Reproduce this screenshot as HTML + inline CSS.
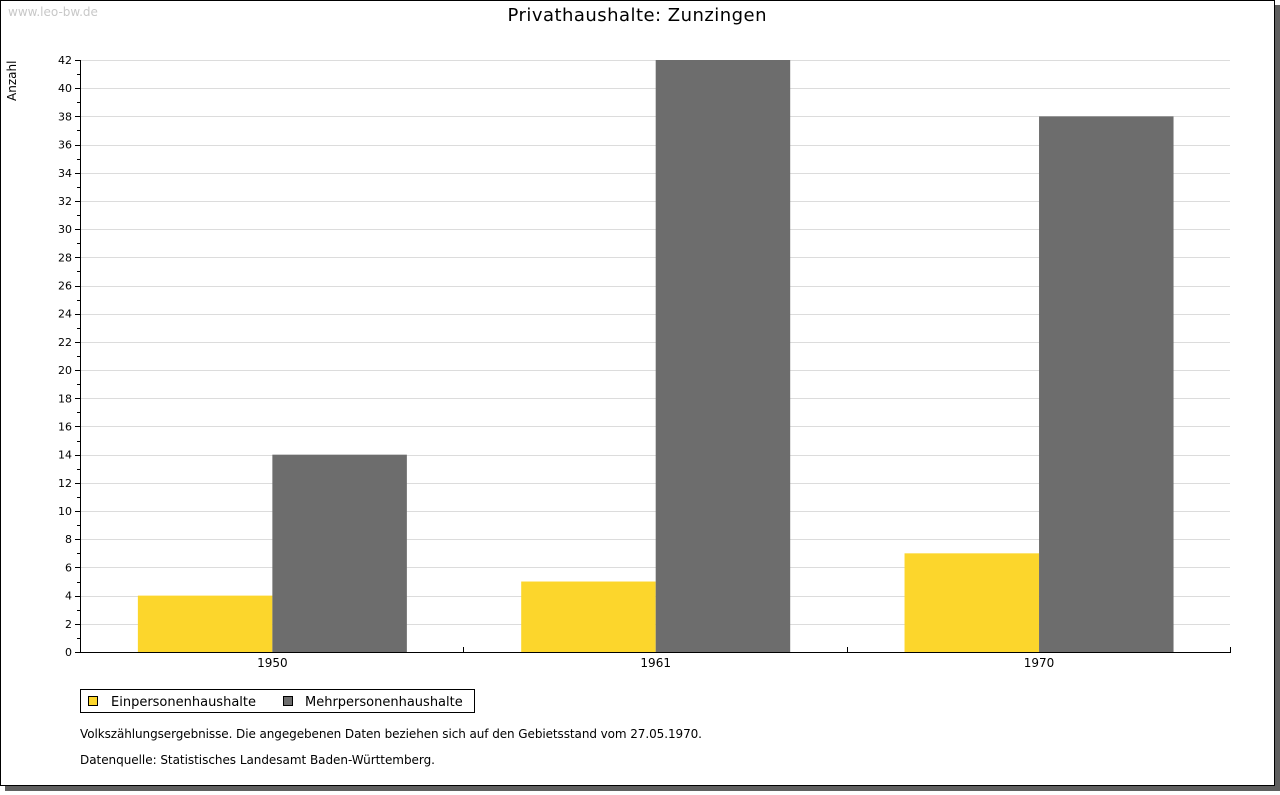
<!DOCTYPE html>
<html><head><meta charset="utf-8"><style>
body{margin:0;background:#fff;font-family:"DejaVu Sans","Liberation Sans",sans-serif;}
</style></head><body>
<svg width="1280" height="791" xmlns="http://www.w3.org/2000/svg" font-family="DejaVu Sans, Liberation Sans, sans-serif">
<rect x="5" y="5" width="1275" height="786" fill="#5f5f5f"/>
<rect x="0.5" y="0.5" width="1274" height="785" fill="#fff" stroke="#000"/>
<text x="8" y="16" font-size="12" fill="#c8c8c8">www.leo-bw.de</text>
<text x="637" y="21" font-size="18" text-anchor="middle" fill="#000" textLength="259">Privathaushalte: Zunzingen</text>
<text transform="translate(16,101) rotate(-90)" font-size="12">Anzahl</text>
<g id="grid"></g><g id="bars"></g><g id="axes"></g>
<g>
<rect x="80.5" y="689.5" width="394" height="23" fill="#fff" stroke="#000"/>
<rect x="88.5" y="696.5" width="9" height="9" fill="#fcd62c" stroke="#000"/>
<text x="111" y="706" font-size="13">Einpersonenhaushalte</text>
<rect x="283.5" y="696.5" width="9" height="9" fill="#6d6d6d" stroke="#000"/>
<text x="305" y="706" font-size="13">Mehrpersonenhaushalte</text>
</g>
<text x="80" y="738" font-size="12" textLength="622">Volkszählungsergebnisse. Die angegebenen Daten beziehen sich auf den Gebietsstand vom 27.05.1970.</text>
<text x="80" y="764" font-size="12" textLength="355">Datenquelle: Statistisches Landesamt Baden-Württemberg.</text>
</svg>
<script>
const categories=["1950","1961","1970"];
const einpersonen=[4,5,7];
const mehrpersonen=[14,42,38];
const yTicks=[0,2,4,6,8,10,12,14,16,18,20,22,24,26,28,30,32,34,36,38,40,42];
const NS="http://www.w3.org/2000/svg";
const X0=80,X1=1230,Y0=652,Y1=60,YMAX=42;
const y=v=>Y0-(v/YMAX)*(Y0-Y1);
const cw=(X1-X0)/categories.length;
const cx=i=>X0+cw*(i+0.5)+0.7;
function mk(tag,attrs,parent){const e=document.createElementNS(NS,tag);for(const k in attrs)e.setAttribute(k,attrs[k]);parent.appendChild(e);return e;}
const grid=document.getElementById('grid'),bars=document.getElementById('bars'),axes=document.getElementById('axes');
for(let v=0;v<=YMAX;v++){
  const yy=Math.round(y(v))+0.5;
  const major=v%2===0;
  if(major&&v>0){const g=mk('line',{x1:X0,x2:X1,y1:yy,y2:yy,stroke:'#dcdcdc'},grid);
  
  }
  const t=mk('line',{x1:major?X0-5:X0-3,x2:X0,y1:yy,y2:yy,stroke:'#000'},axes);
  
  
}
yTicks.forEach(v=>{const t=mk('text',{x:X0-8,y:y(v)+4,'font-size':11,'text-anchor':'end'},axes);t.textContent=v;

});
const bw=134.5;
categories.forEach((c,i)=>{
  const a=mk('rect',{x:cx(i)-bw,y:y(einpersonen[i]),width:bw,height:Y0-y(einpersonen[i]),fill:'#fcd62c'},bars);
  
  
  const b=mk('rect',{x:cx(i),y:y(mehrpersonen[i]),width:bw,height:Y0-y(mehrpersonen[i]),fill:'#6d6d6d'},bars);
  
  
  const t=mk('text',{x:cx(i),y:Y0+15,'font-size':12,'text-anchor':'middle'},axes);t.textContent=c;
  
  
  const tk=mk('line',{x1:Math.round(X0+cw*(i+1))+0.5,x2:Math.round(X0+cw*(i+1))+0.5,y1:Y0-5,y2:Y0,stroke:'#000'},axes);
  
  
});
const ya=mk('line',{x1:X0+0.5,x2:X0+0.5,y1:Y1,y2:Y0+1,stroke:'#000'},axes);


const xa=mk('line',{x1:X0,x2:X1+1,y1:Y0+0.5,y2:Y0+0.5,stroke:'#000'},axes);


</script>
</body></html>
